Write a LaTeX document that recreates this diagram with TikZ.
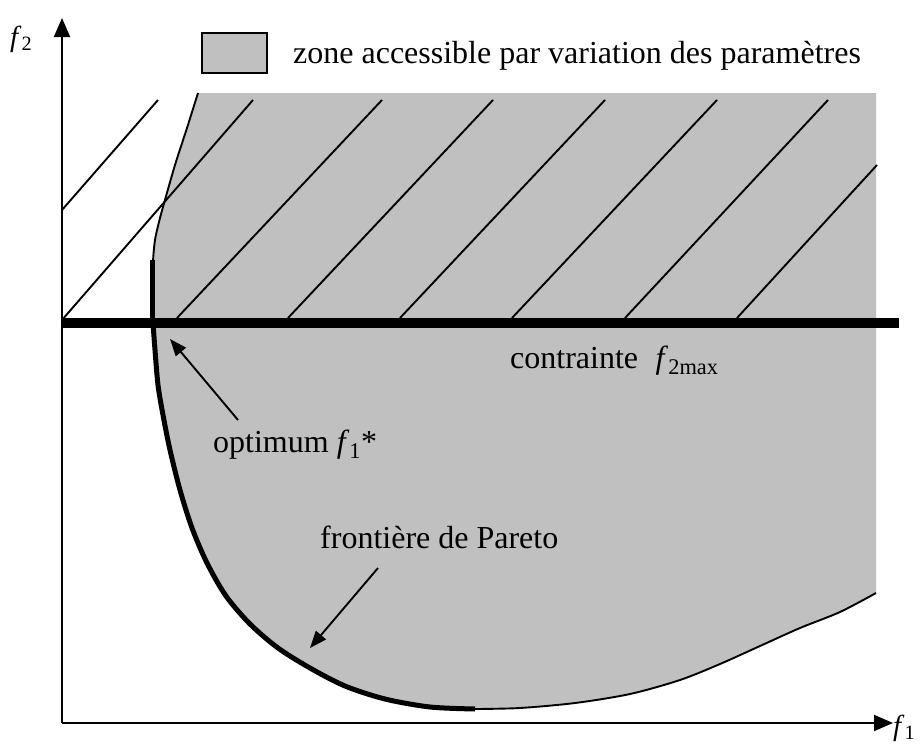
\documentclass[tikz,border=0pt]{standalone}
\usepackage{fontspec}
\setmainfont{Liberation Serif}
\usetikzlibrary{arrows.meta}
\definecolor{zonegray}{RGB}{192,192,192}
\begin{document}
\begin{tikzpicture}[x=1pt,y=-1pt,
  edgeline/.style={line width=1.9pt,line join=round},
  axisline/.style={line width=1.9pt,-{Triangle[length=19pt,width=16pt]}},
  pointer/.style={line width=1.9pt,-{Triangle[length=17pt,width=13pt]}},
  bigline/.style={line width=10pt},
  pareto/.style={line width=5pt,line join=round},
  lbl/.style={font=\fontsize{32}{38}\selectfont, inner sep=0pt},
  axlbl/.style={font=\fontsize{29}{34}\selectfont, inner sep=0pt},
]
\useasboundingbox (0,0) rectangle (922,747);

% gray accessible zone
\fill[zonegray] (198,93) -- (876,93) -- (876,593)
  -- plot[smooth] coordinates {(876,593) (840,612) (800,628) (760,646) (720,664) (680,680) (630,694) (575,703) (520,708) (475,709)}
  -- plot[smooth] coordinates {(475,709) (430,707) (385,699) (345,686) (310,668) (278,648) (250,624) (226,596) (207,563) (192,528) (180,490) (170,450) (163,415) (158,385) (155,350) (153,323)}
  -- plot[smooth] coordinates {(153,323) (153,290) (153,262) (155,240) (159,222) (163,207) (175,165) (187,128) (198,93)}
  -- cycle;

% hatching
\draw[edgeline] (62,210) -- (158,100);
\draw[edgeline] (62,320) -- (253,100);
\draw[edgeline] (177,318) -- (382,100);
\draw[edgeline] (288,318) -- (493,100);
\draw[edgeline] (400,318) -- (605,100);
\draw[edgeline] (512,318) -- (717,100);
\draw[edgeline] (625,318) -- (828,100);
\draw[edgeline] (737,318) -- (877,165);

% boundaries
\draw[edgeline] plot[smooth] coordinates {(876,593) (840,612) (800,628) (760,646) (720,664) (680,680) (630,694) (575,703) (520,708) (475,709)};
\draw[edgeline] plot[smooth] coordinates {(153,323) (153,290) (153,262) (155,240) (159,222) (163,207) (175,165) (187,128) (198,93)};
\draw[pareto] plot[smooth] coordinates {(475,709) (430,707) (385,699) (345,686) (310,668) (278,648) (250,624) (226,596) (207,563) (192,528) (180,490) (170,450) (163,415) (158,385) (155,350) (153,323)};

% constraint
\coordinate (cl) at (62,323);
\coordinate (cr) at (899,323);
\draw[bigline] (cl) -- (cr);
\coordinate (vt) at (152,260);
\coordinate (vb) at (152,323);
\draw[pareto] (vt) -- (vb);

% axes
\coordinate (O) at (62,723);
\coordinate (Ytip) at (62,18);
\coordinate (Xtip) at (893,723);
\draw[axisline] (O) -- (Ytip);
\draw[axisline] (O) -- (Xtip);
\node[axlbl, anchor=base west] (f2) at (10,46) {\itshape f\/\normalfont\textsubscript{2}};
\node[axlbl, anchor=base west] (f1) at (893,735) {\itshape f\/\normalfont\textsubscript{1}};

% legend
\node[draw, line width=1.9pt, fill=zonegray, minimum width=65pt, minimum height=40pt, inner sep=0pt] (leg) at (234.5,53) {};
\node[lbl, anchor=base west] (legtext) at (293,63) {zone accessible par variation des paramètres};

% labels
\node[lbl, anchor=base west] (contr) at (510,368) {contrainte\hspace{0.55em}{\itshape f\/}\textsubscript{2max}};
\node[lbl, anchor=base west] (optl) at (213,452) {optimum {\itshape f\/}\textsubscript{1}*};
\node[lbl, anchor=base west] (parl) at (320,548) {frontière de Pareto};

\coordinate (opttail) at (238,420);
\coordinate (opttip) at (170,339);
\draw[pointer] (opttail) -- (opttip);
\coordinate (partail) at (378,568);
\coordinate (partip) at (310,648);
\draw[pointer] (partail) -- (partip);
\end{tikzpicture}
\end{document}
